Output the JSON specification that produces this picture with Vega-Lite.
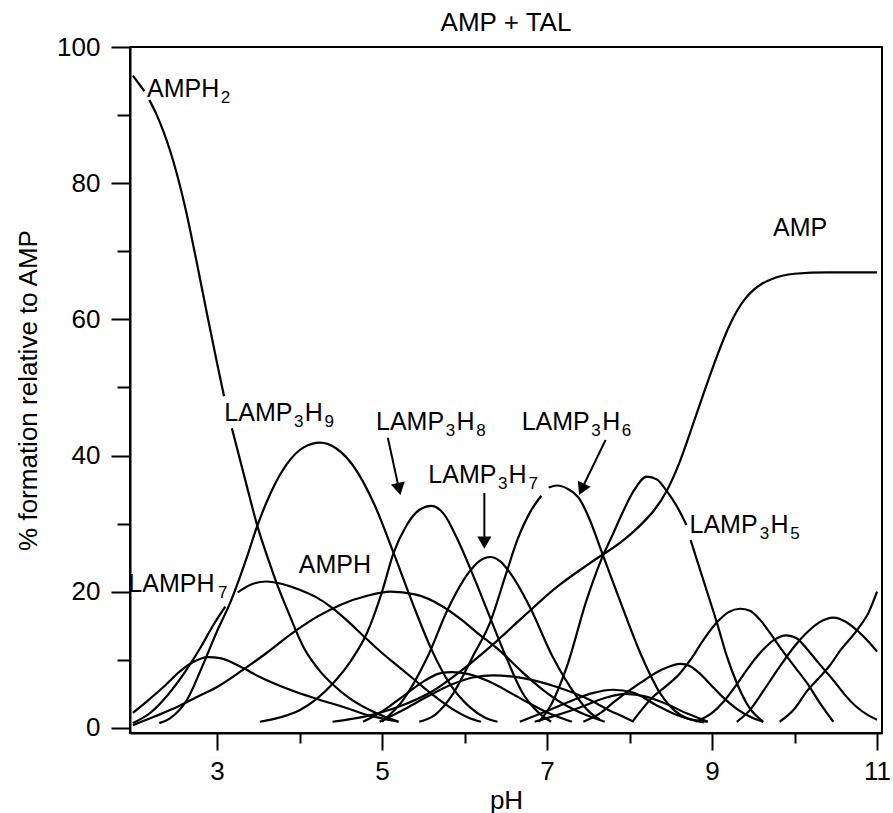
{
  "$schema": "https://vega.github.io/schema/vega-lite/v6.json",
  "width": 752,
  "height": 686,
  "autosize": {"type": "none"},
  "padding": {"left": 130, "top": 47, "right": 11, "bottom": 80},
  "background": "white",
  "title": {"text": "AMP + TAL", "fontSize": 26, "fontWeight": "normal", "font": "Liberation Sans, Arial, sans-serif", "color": "black", "offset": -2},
  "config": {
    "view": {"stroke": "black", "strokeWidth": 2},
    "axis": {"grid": false, "domainColor": "black", "domainWidth": 2, "tickColor": "black", "tickWidth": 2,
      "labelFont": "Liberation Sans, Arial, sans-serif", "labelFontSize": 26, "labelColor": "black",
      "titleFont": "Liberation Sans, Arial, sans-serif", "titleFontSize": 26, "titleFontWeight": "normal", "titleColor": "black"},
    "text": {"font": "Liberation Sans, Arial, sans-serif"}
  },
  "layer": [
    {
      "data": {"values": [
        {"g":"AMPH2-1","x":1.98,"y":95.8},{"g":"AMPH2-1","x":2.12,"y":93.5},
        {"g":"AMPH2-2","x":2.18,"y":92.2},{"g":"AMPH2-2","x":2.27,"y":90.0},{"g":"AMPH2-2","x":2.35,"y":87.6},{"g":"AMPH2-2","x":2.43,"y":84.8},{"g":"AMPH2-2","x":2.51,"y":81.5},{"g":"AMPH2-2","x":2.63,"y":75.6},{"g":"AMPH2-2","x":2.75,"y":68.6},{"g":"AMPH2-2","x":2.875,"y":61.0},{"g":"AMPH2-2","x":3.0,"y":53.6},{"g":"AMPH2-2","x":3.085,"y":48.7},
        {"g":"AMPH2-3","x":3.18,"y":44.0},{"g":"AMPH2-3","x":3.34,"y":36.5},{"g":"AMPH2-3","x":3.5,"y":29.2},{"g":"AMPH2-3","x":3.62,"y":24.8},{"g":"AMPH2-3","x":3.73,"y":21.0},{"g":"AMPH2-3","x":3.85,"y":17.4},{"g":"AMPH2-3","x":4.05,"y":11.8},{"g":"AMPH2-3","x":4.25,"y":8.3},{"g":"AMPH2-3","x":4.41,"y":6.3},{"g":"AMPH2-3","x":4.6,"y":4.4},{"g":"AMPH2-3","x":4.82,"y":2.8},{"g":"AMPH2-3","x":5.0,"y":1.8},{"g":"AMPH2-3","x":5.2,"y":0.9},
        {"g":"LAMPH7-1","x":1.98,"y":0.7},{"g":"LAMPH7-1","x":2.2,"y":2.3},{"g":"LAMPH7-1","x":2.4,"y":4.8},{"g":"LAMPH7-1","x":2.6,"y":8.0},{"g":"LAMPH7-1","x":2.8,"y":11.8},{"g":"LAMPH7-1","x":2.95,"y":15.0},{"g":"LAMPH7-1","x":3.1,"y":17.8},
        {"g":"LAMPH7-2","x":3.25,"y":19.9},{"g":"LAMPH7-2","x":3.4,"y":21.0},{"g":"LAMPH7-2","x":3.6,"y":21.5},{"g":"LAMPH7-2","x":3.8,"y":21.1},{"g":"LAMPH7-2","x":4.0,"y":20.3},{"g":"LAMPH7-2","x":4.2,"y":19.2},{"g":"LAMPH7-2","x":4.4,"y":17.6},{"g":"LAMPH7-2","x":4.6,"y":15.5},{"g":"LAMPH7-2","x":4.8,"y":13.2},{"g":"LAMPH7-2","x":5.0,"y":11.0},{"g":"LAMPH7-2","x":5.2,"y":9.0},{"g":"LAMPH7-2","x":5.4,"y":7.0},{"g":"LAMPH7-2","x":5.62,"y":4.8},{"g":"LAMPH7-2","x":5.85,"y":2.8},{"g":"LAMPH7-2","x":6.05,"y":1.5},{"g":"LAMPH7-2","x":6.2,"y":0.9},
        {"g":"C10","x":1.98,"y":2.2},{"g":"C10","x":2.15,"y":3.9},{"g":"C10","x":2.35,"y":6.0},{"g":"C10","x":2.55,"y":8.3},{"g":"C10","x":2.7,"y":9.6},{"g":"C10","x":2.89,"y":10.4},{"g":"C10","x":3.05,"y":10.2},{"g":"C10","x":3.28,"y":9.0},{"g":"C10","x":3.5,"y":7.6},{"g":"C10","x":3.68,"y":6.6},{"g":"C10","x":3.95,"y":5.3},{"g":"C10","x":4.25,"y":4.1},{"g":"C10","x":4.55,"y":3.0},{"g":"C10","x":4.82,"y":1.9},{"g":"C10","x":5.0,"y":1.4},{"g":"C10","x":5.2,"y":0.9},
        {"g":"LAMP3H9","x":2.3,"y":0.7},{"g":"LAMP3H9","x":2.43,"y":1.4},{"g":"LAMP3H9","x":2.64,"y":4.2},{"g":"LAMP3H9","x":2.82,"y":9.0},{"g":"LAMP3H9","x":3.0,"y":14.2},{"g":"LAMP3H9","x":3.16,"y":18.4},{"g":"LAMP3H9","x":3.36,"y":25.0},{"g":"LAMP3H9","x":3.48,"y":29.4},{"g":"LAMP3H9","x":3.65,"y":34.5},{"g":"LAMP3H9","x":3.85,"y":38.8},{"g":"LAMP3H9","x":4.05,"y":41.2},{"g":"LAMP3H9","x":4.25,"y":41.9},{"g":"LAMP3H9","x":4.45,"y":41.0},{"g":"LAMP3H9","x":4.65,"y":38.5},{"g":"LAMP3H9","x":4.9,"y":33.0},{"g":"LAMP3H9","x":5.14,"y":25.7},{"g":"LAMP3H9","x":5.38,"y":18.0},{"g":"LAMP3H9","x":5.6,"y":11.5},{"g":"LAMP3H9","x":5.82,"y":6.5},{"g":"LAMP3H9","x":6.05,"y":3.2},{"g":"LAMP3H9","x":6.25,"y":1.5},{"g":"LAMP3H9","x":6.4,"y":0.9},
        {"g":"AMPH","x":1.98,"y":0.4},{"g":"AMPH","x":2.25,"y":1.7},{"g":"AMPH","x":2.52,"y":3.1},{"g":"AMPH","x":2.75,"y":4.5},{"g":"AMPH","x":3.0,"y":6.0},{"g":"AMPH","x":3.3,"y":8.4},{"g":"AMPH","x":3.6,"y":11.0},{"g":"AMPH","x":3.9,"y":13.8},{"g":"AMPH","x":4.21,"y":16.3},{"g":"AMPH","x":4.5,"y":18.1},{"g":"AMPH","x":4.82,"y":19.4},{"g":"AMPH","x":5.1,"y":20.0},{"g":"AMPH","x":5.4,"y":19.6},{"g":"AMPH","x":5.74,"y":17.8},{"g":"AMPH","x":5.95,"y":16.0},{"g":"AMPH","x":6.15,"y":14.0},{"g":"AMPH","x":6.43,"y":11.3},{"g":"AMPH","x":6.7,"y":8.2},{"g":"AMPH","x":6.95,"y":5.6},{"g":"AMPH","x":7.2,"y":3.5},{"g":"AMPH","x":7.45,"y":2.0},{"g":"AMPH","x":7.7,"y":0.9},
        {"g":"LAMP3H8","x":3.52,"y":0.9},{"g":"LAMP3H8","x":3.75,"y":1.5},{"g":"LAMP3H8","x":4.0,"y":2.6},{"g":"LAMP3H8","x":4.2,"y":4.2},{"g":"LAMP3H8","x":4.41,"y":6.6},{"g":"LAMP3H8","x":4.62,"y":9.8},{"g":"LAMP3H8","x":4.82,"y":14.0},{"g":"LAMP3H8","x":5.0,"y":20.0},{"g":"LAMP3H8","x":5.14,"y":25.7},{"g":"LAMP3H8","x":5.3,"y":29.8},{"g":"LAMP3H8","x":5.45,"y":32.0},{"g":"LAMP3H8","x":5.6,"y":32.6},{"g":"LAMP3H8","x":5.75,"y":31.4},{"g":"LAMP3H8","x":5.91,"y":27.8},{"g":"LAMP3H8","x":6.1,"y":22.5},{"g":"LAMP3H8","x":6.3,"y":16.5},{"g":"LAMP3H8","x":6.5,"y":10.5},{"g":"LAMP3H8","x":6.7,"y":5.2},{"g":"LAMP3H8","x":6.9,"y":2.2},{"g":"LAMP3H8","x":7.05,"y":0.9},
        {"g":"AMP","x":4.4,"y":0.9},{"g":"AMP","x":4.8,"y":1.7},{"g":"AMP","x":5.2,"y":3.1},{"g":"AMP","x":5.6,"y":5.3},{"g":"AMP","x":5.95,"y":8.3},{"g":"AMP","x":6.31,"y":11.9},{"g":"AMP","x":6.71,"y":16.3},{"g":"AMP","x":7.12,"y":20.7},{"g":"AMP","x":7.52,"y":24.2},{"g":"AMP","x":7.93,"y":27.6},{"g":"AMP","x":8.15,"y":30.0},{"g":"AMP","x":8.3,"y":32.0},{"g":"AMP","x":8.45,"y":34.8},{"g":"AMP","x":8.6,"y":38.8},{"g":"AMP","x":8.73,"y":43.2},{"g":"AMP","x":8.9,"y":49.2},{"g":"AMP","x":9.06,"y":54.6},{"g":"AMP","x":9.2,"y":58.8},{"g":"AMP","x":9.3,"y":61.2},{"g":"AMP","x":9.4,"y":63.0},{"g":"AMP","x":9.5,"y":64.3},{"g":"AMP","x":9.6,"y":65.2},{"g":"AMP","x":9.72,"y":65.9},{"g":"AMP","x":9.85,"y":66.4},{"g":"AMP","x":10.0,"y":66.7},{"g":"AMP","x":10.4,"y":66.9},{"g":"AMP","x":11.0,"y":66.9},
        {"g":"LAMP3H7","x":5.0,"y":0.9},{"g":"LAMP3H7","x":5.25,"y":4.0},{"g":"LAMP3H7","x":5.55,"y":10.4},{"g":"LAMP3H7","x":5.8,"y":17.5},{"g":"LAMP3H7","x":6.05,"y":22.8},{"g":"LAMP3H7","x":6.18,"y":24.5},{"g":"LAMP3H7","x":6.31,"y":25.1},{"g":"LAMP3H7","x":6.43,"y":24.5},{"g":"LAMP3H7","x":6.55,"y":22.8},{"g":"LAMP3H7","x":6.79,"y":17.8},{"g":"LAMP3H7","x":7.07,"y":10.4},{"g":"LAMP3H7","x":7.36,"y":4.6},{"g":"LAMP3H7","x":7.5,"y":2.5},{"g":"LAMP3H7","x":7.64,"y":1.2},
        {"g":"LAMP3H6-1","x":5.45,"y":0.9},{"g":"LAMP3H6-1","x":5.65,"y":2.0},{"g":"LAMP3H6-1","x":5.86,"y":5.0},{"g":"LAMP3H6-1","x":6.1,"y":10.5},{"g":"LAMP3H6-1","x":6.31,"y":15.5},{"g":"LAMP3H6-1","x":6.5,"y":22.5},{"g":"LAMP3H6-1","x":6.64,"y":27.6},{"g":"LAMP3H6-1","x":6.8,"y":31.8},{"g":"LAMP3H6-1","x":6.93,"y":34.1},
        {"g":"LAMP3H6-2","x":7.02,"y":35.3},{"g":"LAMP3H6-2","x":7.12,"y":35.6},{"g":"LAMP3H6-2","x":7.25,"y":35.1},{"g":"LAMP3H6-2","x":7.4,"y":33.5},{"g":"LAMP3H6-2","x":7.52,"y":30.5},{"g":"LAMP3H6-2","x":7.64,"y":26.6},{"g":"LAMP3H6-2","x":7.88,"y":18.8},{"g":"LAMP3H6-2","x":8.13,"y":11.0},{"g":"LAMP3H6-2","x":8.37,"y":5.1},{"g":"LAMP3H6-2","x":8.55,"y":2.5},{"g":"LAMP3H6-2","x":8.7,"y":1.4},{"g":"LAMP3H6-2","x":8.94,"y":0.9},
        {"g":"LAMP3H5-1","x":6.9,"y":0.9},{"g":"LAMP3H5-1","x":7.03,"y":3.0},{"g":"LAMP3H5-1","x":7.24,"y":9.0},{"g":"LAMP3H5-1","x":7.48,"y":18.8},{"g":"LAMP3H5-1","x":7.65,"y":24.5},{"g":"LAMP3H5-1","x":7.8,"y":28.5},{"g":"LAMP3H5-1","x":7.93,"y":32.0},{"g":"LAMP3H5-1","x":8.05,"y":34.8},{"g":"LAMP3H5-1","x":8.21,"y":36.9},{"g":"LAMP3H5-1","x":8.33,"y":36.5},{"g":"LAMP3H5-1","x":8.45,"y":34.8},{"g":"LAMP3H5-1","x":8.58,"y":32.4},{"g":"LAMP3H5-1","x":8.69,"y":29.8},
        {"g":"LAMP3H5-2","x":8.74,"y":27.6},{"g":"LAMP3H5-2","x":8.9,"y":21.5},{"g":"LAMP3H5-2","x":9.06,"y":15.4},{"g":"LAMP3H5-2","x":9.18,"y":10.5},{"g":"LAMP3H5-2","x":9.3,"y":6.6},{"g":"LAMP3H5-2","x":9.45,"y":3.0},{"g":"LAMP3H5-2","x":9.62,"y":0.9},
        {"g":"S1","x":4.77,"y":0.9},{"g":"S1","x":5.0,"y":2.4},{"g":"S1","x":5.25,"y":4.6},{"g":"S1","x":5.5,"y":6.8},{"g":"S1","x":5.7,"y":8.0},{"g":"S1","x":5.85,"y":8.2},{"g":"S1","x":6.05,"y":7.9},{"g":"S1","x":6.3,"y":6.8},{"g":"S1","x":6.55,"y":5.2},{"g":"S1","x":6.8,"y":3.5},{"g":"S1","x":7.05,"y":2.0},{"g":"S1","x":7.3,"y":0.9},
        {"g":"S2","x":4.97,"y":0.9},{"g":"S2","x":5.25,"y":2.6},{"g":"S2","x":5.55,"y":4.6},{"g":"S2","x":5.85,"y":6.4},{"g":"S2","x":6.1,"y":7.4},{"g":"S2","x":6.35,"y":7.7},{"g":"S2","x":6.71,"y":7.3},{"g":"S2","x":7.12,"y":6.0},{"g":"S2","x":7.52,"y":4.1},{"g":"S2","x":7.75,"y":2.6},{"g":"S2","x":7.93,"y":1.6},{"g":"S2","x":8.05,"y":0.9},
        {"g":"S3","x":6.67,"y":0.9},{"g":"S3","x":6.9,"y":2.0},{"g":"S3","x":7.1,"y":3.0},{"g":"S3","x":7.32,"y":4.1},{"g":"S3","x":7.55,"y":5.1},{"g":"S3","x":7.8,"y":5.6},{"g":"S3","x":8.04,"y":5.2},{"g":"S3","x":8.33,"y":3.3},{"g":"S3","x":8.55,"y":2.0},{"g":"S3","x":8.75,"y":1.2},{"g":"S3","x":8.9,"y":0.8},
        {"g":"S4","x":6.85,"y":0.9},{"g":"S4","x":7.1,"y":1.8},{"g":"S4","x":7.4,"y":3.0},{"g":"S4","x":7.7,"y":4.4},{"g":"S4","x":7.95,"y":5.0},{"g":"S4","x":8.2,"y":4.6},{"g":"S4","x":8.45,"y":3.5},{"g":"S4","x":8.7,"y":2.1},{"g":"S4","x":8.95,"y":0.9},
        {"g":"P9","x":7.44,"y":0.9},{"g":"P9","x":7.65,"y":2.2},{"g":"P9","x":7.8,"y":3.7},{"g":"P9","x":8.13,"y":6.6},{"g":"P9","x":8.4,"y":8.6},{"g":"P9","x":8.62,"y":9.4},{"g":"P9","x":8.73,"y":9.1},{"g":"P9","x":8.85,"y":8.0},{"g":"P9","x":9.01,"y":6.0},{"g":"P9","x":9.15,"y":4.3},{"g":"P9","x":9.3,"y":2.8},{"g":"P9","x":9.5,"y":1.4},{"g":"P9","x":9.62,"y":0.9},
        {"g":"P17","x":8.04,"y":1.0},{"g":"P17","x":8.28,"y":4.5},{"g":"P17","x":8.45,"y":6.2},{"g":"P17","x":8.61,"y":8.0},{"g":"P17","x":8.75,"y":10.2},{"g":"P17","x":8.9,"y":13.0},{"g":"P17","x":9.06,"y":15.5},{"g":"P17","x":9.2,"y":17.0},{"g":"P17","x":9.34,"y":17.5},{"g":"P17","x":9.46,"y":17.2},{"g":"P17","x":9.58,"y":15.9},{"g":"P17","x":9.7,"y":14.0},{"g":"P17","x":9.82,"y":11.9},{"g":"P17","x":10.0,"y":9.0},{"g":"P17","x":10.15,"y":6.6},{"g":"P17","x":10.3,"y":3.8},{"g":"P17","x":10.47,"y":0.9},
        {"g":"P13","x":8.8,"y":0.9},{"g":"P13","x":9.0,"y":2.2},{"g":"P13","x":9.15,"y":4.0},{"g":"P13","x":9.3,"y":6.4},{"g":"P13","x":9.45,"y":9.0},{"g":"P13","x":9.62,"y":11.5},{"g":"P13","x":9.76,"y":13.0},{"g":"P13","x":9.9,"y":13.6},{"g":"P13","x":10.02,"y":13.2},{"g":"P13","x":10.15,"y":11.6},{"g":"P13","x":10.3,"y":9.4},{"g":"P13","x":10.47,"y":7.0},{"g":"P13","x":10.6,"y":5.0},{"g":"P13","x":10.75,"y":3.1},{"g":"P13","x":10.9,"y":1.8},{"g":"P13","x":11.0,"y":1.2},
        {"g":"P16","x":9.3,"y":0.9},{"g":"P16","x":9.45,"y":2.5},{"g":"P16","x":9.62,"y":5.4},{"g":"P16","x":9.82,"y":9.0},{"g":"P16","x":10.0,"y":12.0},{"g":"P16","x":10.15,"y":14.0},{"g":"P16","x":10.3,"y":15.5},{"g":"P16","x":10.47,"y":16.2},{"g":"P16","x":10.62,"y":15.6},{"g":"P16","x":10.76,"y":14.3},{"g":"P16","x":10.9,"y":12.6},{"g":"P16","x":11.0,"y":11.2},
        {"g":"RISE","x":9.82,"y":0.9},{"g":"RISE","x":10.0,"y":2.8},{"g":"RISE","x":10.15,"y":5.4},{"g":"RISE","x":10.3,"y":7.4},{"g":"RISE","x":10.43,"y":9.2},{"g":"RISE","x":10.55,"y":11.3},{"g":"RISE","x":10.76,"y":14.4},{"g":"RISE","x":10.9,"y":17.0},{"g":"RISE","x":11.0,"y":20.0}
      ]},
      "mark": {"type": "line", "color": "black", "strokeWidth": 2.2, "interpolate": "monotone"},
      "encoding": {
        "x": {"field": "x", "type": "quantitative",
          "scale": {"domain": [1.945, 11.06], "nice": false, "zero": false},
          "axis": {"values": [3, 4, 5, 6, 7, 8, 9, 10, 11], "format": "d", "labelExpr": "datum.value % 2 == 1 ? datum.label : ''",
            "tickSize": {"condition": {"test": "datum.value % 2 == 1", "value": 17}, "value": 10},
            "labelPadding": 8, "title": "pH", "titlePadding": 3, "labelFlush": false}},
        "y": {"field": "y", "type": "quantitative",
          "scale": {"domain": [-0.75, 100], "nice": false, "zero": false},
          "axis": {"values": [0, 10, 20, 30, 40, 50, 60, 70, 80, 90, 100], "format": "d", "labelExpr": "datum.value % 20 == 0 ? datum.label : ''",
            "tickSize": {"condition": {"test": "datum.value % 20 == 0", "value": 19}, "value": 13},
            "labelPadding": 11, "title": "% formation relative to AMP", "titlePadding": 15, "labelFlush": false}},
        "detail": {"field": "g"}
      }
    },
    {
      "data": {"values": [
        {"x": 5.07, "y": 42.6, "x2": 5.20, "y2": 35.4},
        {"x": 6.24, "y": 34.5, "x2": 6.24, "y2": 27.5},
        {"x": 7.71, "y": 42.3, "x2": 7.43, "y2": 35.3}
      ]},
      "mark": {"type": "rule", "color": "black", "strokeWidth": 2},
      "encoding": {
        "x": {"field": "x", "type": "quantitative"},
        "y": {"field": "y", "type": "quantitative"},
        "x2": {"field": "x2"},
        "y2": {"field": "y2"}
      }
    },
    {
      "data": {"values": [
        {"x": 5.202, "y": 35.37, "dir": 168},
        {"x": 6.24, "y": 27.5, "dir": 180},
        {"x": 7.43, "y": 35.3, "dir": 205}
      ]},
      "mark": {"type": "point", "shape": "triangle", "filled": true, "color": "black", "size": 200, "opacity": 1},
      "encoding": {
        "x": {"field": "x", "type": "quantitative"},
        "y": {"field": "y", "type": "quantitative"},
        "angle": {"field": "dir", "type": "quantitative", "scale": null}
      }
    },
    {
      "data": {"values": [
        {"t": "AMPH", "x": 2.1515, "y": 92.7},
        {"t": "LAMP", "x": 3.088, "y": 45.0},
        {"t": "H", "x": 4.064, "y": 45.0},
        {"t": "LAMP", "x": 4.927, "y": 43.7},
        {"t": "H", "x": 5.903, "y": 43.7},
        {"t": "LAMP", "x": 5.561, "y": 35.9},
        {"t": "H", "x": 6.533, "y": 35.9},
        {"t": "LAMP", "x": 6.693, "y": 43.8},
        {"t": "H", "x": 7.669, "y": 43.8},
        {"t": "LAMP", "x": 8.727, "y": 28.6},
        {"t": "H", "x": 9.709, "y": 28.6},
        {"t": "LAMPH", "x": 1.925, "y": 19.9},
        {"t": "AMPH", "x": 3.99, "y": 22.8},
        {"t": "AMP", "x": 9.74, "y": 72.2}
      ]},
      "mark": {"type": "text", "align": "left", "baseline": "alphabetic", "fontSize": 25, "color": "black"},
      "encoding": {
        "x": {"field": "x", "type": "quantitative"},
        "y": {"field": "y", "type": "quantitative"},
        "text": {"field": "t"}
      }
    },
    {
      "data": {"values": [
        {"t": "2", "x": 3.045, "y": 92.7},
        {"t": "3", "x": 3.932, "y": 45.0},
        {"t": "9", "x": 4.302, "y": 45.0},
        {"t": "3", "x": 5.771, "y": 43.7},
        {"t": "8", "x": 6.141, "y": 43.7},
        {"t": "3", "x": 6.405, "y": 35.9},
        {"t": "7", "x": 6.775, "y": 35.9},
        {"t": "3", "x": 7.537, "y": 43.8},
        {"t": "6", "x": 7.907, "y": 43.8},
        {"t": "3", "x": 9.577, "y": 28.6},
        {"t": "5", "x": 9.947, "y": 28.6},
        {"t": "7", "x": 3.012, "y": 19.9}
      ]},
      "mark": {"type": "text", "align": "left", "baseline": "alphabetic", "fontSize": 17, "dy": 6, "color": "black"},
      "encoding": {
        "x": {"field": "x", "type": "quantitative"},
        "y": {"field": "y", "type": "quantitative"},
        "text": {"field": "t"}
      }
    }
  ]
}
